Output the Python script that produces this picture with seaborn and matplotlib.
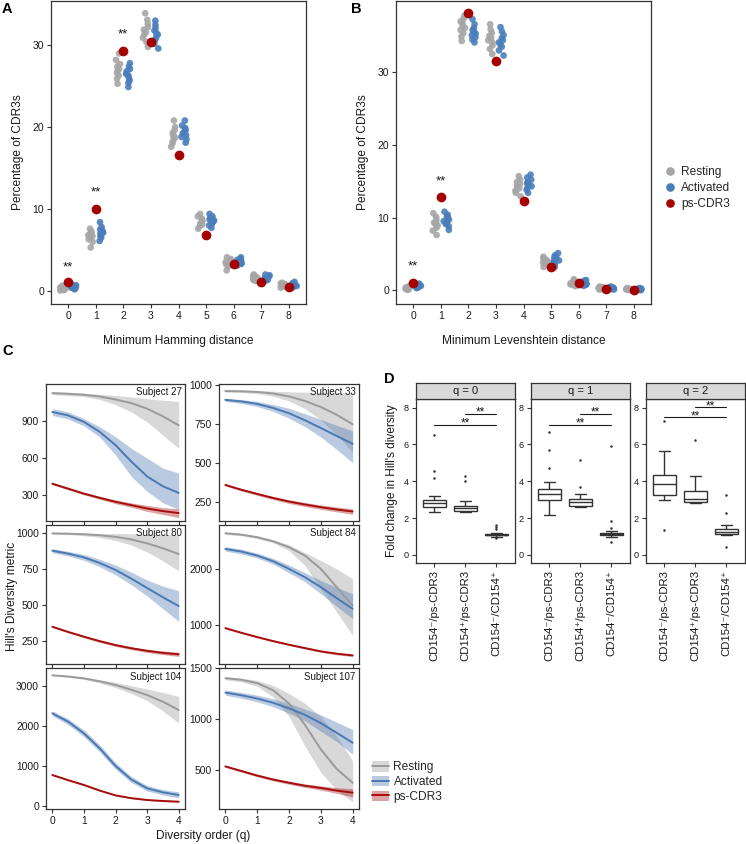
import numpy as np
import pandas as pd
import matplotlib
matplotlib.use('Agg')
import matplotlib.pyplot as plt
from matplotlib.lines import Line2D
from matplotlib.patches import Patch
import seaborn as sns

# ---------------- data: panels A and B (percentage of CDR3s) ----------------
distances = [0, 1, 2, 3, 4, 5, 6, 7, 8]

ham_rest = [
    [0.05, 0.1, 0.15, 0.2, 0.25, 0.3, 0.35, 0.4, 0.5, 0.65],
    [5.3, 6.0, 6.3, 6.5, 6.7, 6.8, 7.0, 7.1, 7.3, 7.6],
    [25.3, 25.9, 26.3, 26.6, 26.9, 27.1, 27.4, 27.7, 28.2, 29.0],
    [29.8, 30.4, 30.9, 31.3, 31.6, 31.9, 32.2, 32.6, 33.1, 33.9],
    [17.6, 18.0, 18.3, 18.6, 18.8, 19.0, 19.3, 19.6, 20.0, 20.8],
    [7.6, 7.9, 8.1, 8.2, 8.3, 8.5, 8.6, 8.8, 9.1, 9.4],
    [2.5, 3.0, 3.2, 3.3, 3.4, 3.5, 3.6, 3.7, 3.9, 4.1],
    [1.2, 1.3, 1.4, 1.5, 1.6, 1.65, 1.7, 1.8, 1.9, 2.0],
    [0.4, 0.5, 0.55, 0.6, 0.65, 0.7, 0.75, 0.8, 0.9, 1.0],
]
ham_act = [
    [0.2, 0.3, 0.35, 0.4, 0.45, 0.5, 0.55, 0.6, 0.7, 0.85],
    [6.1, 6.5, 6.7, 6.9, 7.0, 7.1, 7.3, 7.5, 7.8, 8.4],
    [24.9, 25.4, 25.7, 26.0, 26.3, 26.5, 26.8, 27.1, 27.4, 27.8],
    [29.6, 30.2, 30.7, 31.0, 31.3, 31.5, 31.8, 32.1, 32.5, 33.0],
    [18.1, 18.5, 18.8, 19.0, 19.2, 19.4, 19.6, 19.9, 20.2, 20.8],
    [7.7, 8.0, 8.2, 8.3, 8.5, 8.6, 8.7, 8.9, 9.1, 9.4],
    [3.1, 3.3, 3.4, 3.5, 3.6, 3.6, 3.7, 3.8, 3.9, 4.1],
    [1.2, 1.3, 1.4, 1.5, 1.55, 1.6, 1.7, 1.8, 1.9, 2.0],
    [0.45, 0.55, 0.6, 0.65, 0.7, 0.75, 0.8, 0.85, 0.95, 1.1],
]
ham_ps = [1.1, 10.0, 29.3, 30.4, 16.6, 6.8, 3.3, 1.1, 0.5]
ham_sig_x = [0, 1, 2]
ham_sig_y = [2.9, 12.0, 31.3]

lev_rest = [
    [0.05, 0.1, 0.15, 0.2, 0.25, 0.3, 0.35, 0.4, 0.45, 0.6],
    [7.6, 8.2, 8.6, 8.9, 9.1, 9.3, 9.5, 9.8, 10.1, 10.6],
    [34.3, 34.9, 35.4, 35.8, 36.1, 36.4, 36.7, 37.0, 37.4, 37.8],
    [32.5, 33.2, 33.7, 34.1, 34.4, 34.7, 35.0, 35.4, 35.9, 36.6],
    [12.9, 13.4, 13.7, 14.0, 14.2, 14.4, 14.6, 14.9, 15.2, 15.7],
    [3.2, 3.5, 3.7, 3.8, 3.9, 4.0, 4.1, 4.2, 4.4, 4.6],
    [0.55, 0.7, 0.8, 0.9, 0.95, 1.0, 1.1, 1.2, 1.3, 1.5],
    [0.1, 0.15, 0.2, 0.22, 0.25, 0.28, 0.3, 0.35, 0.4, 0.5],
    [0.0, 0.03, 0.05, 0.07, 0.1, 0.12, 0.15, 0.18, 0.22, 0.3],
]
lev_act = [
    [0.3, 0.35, 0.4, 0.45, 0.5, 0.55, 0.6, 0.65, 0.75, 0.9],
    [8.3, 8.8, 9.1, 9.3, 9.5, 9.7, 9.9, 10.1, 10.4, 10.8],
    [34.1, 34.5, 34.8, 35.1, 35.3, 35.5, 35.8, 36.1, 36.6, 37.3],
    [32.3, 33.0, 33.5, 33.8, 34.1, 34.4, 34.7, 35.1, 35.6, 36.2],
    [13.4, 13.8, 14.1, 14.3, 14.5, 14.7, 14.9, 15.2, 15.5, 15.9],
    [3.2, 3.6, 3.8, 4.0, 4.1, 4.2, 4.4, 4.6, 4.8, 5.1],
    [0.6, 0.75, 0.85, 0.95, 1.0, 1.05, 1.1, 1.2, 1.3, 1.4],
    [0.1, 0.15, 0.2, 0.25, 0.28, 0.3, 0.33, 0.37, 0.42, 0.5],
    [0.0, 0.03, 0.05, 0.07, 0.1, 0.12, 0.15, 0.18, 0.22, 0.3],
]
lev_ps = [1.0, 12.8, 38.2, 31.5, 12.3, 3.2, 1.0, 0.2, 0.05]
lev_sig_x = [0, 1]
lev_sig_y = [3.3, 15.0]

# ---------------- data: panel C (Hill's diversity curves) ----------------
hill_q = [0, 0.5, 1, 1.5, 2, 2.5, 3, 3.5, 4]
series_names = ['Resting', 'Activated', 'ps-CDR3']

# each *_mean / *_lo / *_hi holds [Resting, Activated, ps-CDR3]
s27_mean = [[1124, 1119, 1111, 1097, 1073, 1044, 999, 937, 865],
            [972, 945, 892, 812, 705, 572, 452, 372, 319],
            [393, 353, 313, 279, 247, 220, 193, 172, 156]]
s27_lo = [[1111, 1105, 1097, 1073, 1031, 972, 892, 785, 679],
          [945, 915, 860, 770, 625, 452, 332, 239, 185],
          [385, 344, 303, 267, 232, 202, 170, 145, 119]]
s27_hi = [[1137, 1131, 1124, 1115, 1105, 1093, 1079, 1067, 1057],
          [999, 973, 919, 853, 772, 679, 599, 519, 479],
          [401, 362, 323, 291, 262, 238, 218, 200, 191]]
s27_ticks = [300, 600, 900]
s27_ylim = (92, 1198)

s33_mean = [[961, 959, 955, 945, 926, 897, 858, 808, 747],
            [904, 894, 878, 852, 818, 773, 723, 672, 621],
            [357, 326, 299, 273, 250, 231, 214, 199, 186]]
s33_lo = [[954, 951, 944, 928, 897, 848, 775, 680, 565],
          [894, 881, 861, 830, 786, 732, 665, 585, 500],
          [350, 318, 290, 263, 238, 218, 200, 184, 168]]
s33_hi = [[968, 966, 964, 960, 956, 953, 952, 951, 950],
          [914, 906, 894, 874, 850, 815, 778, 740, 705],
          [364, 334, 308, 283, 262, 244, 228, 215, 204]]
s33_ticks = [250, 500, 750, 1000]
s33_ylim = (125, 1006)

s80_mean = [[995, 993, 989, 982, 971, 953, 926, 892, 852],
            [875, 855, 829, 790, 742, 682, 617, 553, 492],
            [349, 313, 280, 249, 222, 200, 182, 168, 158]]
s80_lo = [[990, 986, 979, 967, 946, 914, 866, 805, 735],
          [861, 839, 809, 764, 708, 640, 562, 474, 386],
          [344, 307, 273, 241, 213, 190, 171, 156, 143]]
s80_hi = [[1000, 999, 997, 995, 993, 992, 990, 988, 985],
          [889, 871, 849, 816, 776, 726, 672, 630, 598],
          [354, 319, 287, 257, 231, 210, 193, 181, 173]]
s80_ticks = [250, 500, 750, 1000]
s80_ylim = (91, 1053)

s84_mean = [[2637, 2613, 2566, 2494, 2387, 2238, 2000, 1673, 1345],
            [2357, 2310, 2238, 2137, 2000, 1851, 1673, 1476, 1286],
            [940, 857, 780, 708, 643, 583, 524, 482, 452]]
s84_lo = [[2617, 2592, 2543, 2468, 2327, 2060, 1643, 1226, 809],
          [2317, 2268, 2193, 2087, 1930, 1770, 1554, 1330, 1107],
          [928, 845, 767, 694, 628, 567, 507, 463, 430]]
s84_hi = [[2657, 2634, 2589, 2520, 2430, 2290, 2149, 2000, 1821],
          [2397, 2352, 2283, 2187, 2070, 1932, 1792, 1670, 1554],
          [952, 869, 793, 722, 658, 599, 541, 501, 474]]
s84_ticks = [1000, 2000]
s84_ylim = (298, 2785)

s104_mean = [[3259, 3230, 3184, 3110, 3018, 2900, 2768, 2600, 2394],
             [2311, 2103, 1812, 1438, 1000, 660, 441, 341, 274],
             [773, 645, 524, 385, 265, 195, 150, 125, 108]]
s104_lo = [[3245, 3212, 3160, 3072, 2955, 2805, 2630, 2370, 2070],
           [2250, 2030, 1730, 1350, 920, 588, 375, 275, 200],
           [758, 630, 510, 372, 252, 183, 138, 112, 94]]
s104_hi = [[3273, 3250, 3210, 3150, 3082, 3000, 2920, 2830, 2735],
           [2372, 2176, 1895, 1525, 1082, 735, 510, 410, 350],
           [788, 660, 538, 398, 277, 207, 162, 138, 122]]
s104_ticks = [0, 1000, 2000, 3000]
s104_ylim = (-75, 3442)

s107_mean = [[1403, 1387, 1355, 1284, 1155, 945, 703, 510, 374],
             [1261, 1235, 1203, 1161, 1106, 1042, 961, 865, 768],
             [535, 490, 445, 406, 374, 345, 323, 297, 277]]
s107_lo = [[1387, 1368, 1323, 1219, 1026, 735, 477, 300, 187],
           [1235, 1206, 1170, 1122, 1058, 985, 881, 780, 655],
           [525, 479, 433, 393, 359, 328, 302, 270, 235]]
s107_hi = [[1419, 1403, 1381, 1332, 1252, 1155, 1026, 832, 590],
           [1287, 1264, 1236, 1200, 1154, 1100, 1042, 970, 897],
           [545, 501, 457, 419, 389, 362, 344, 325, 316]]
s107_ticks = [500, 1000, 1500]
s107_ylim = (116, 1503)

# ---------------- data: panel D (fold change boxplots) ----------------
groups = ['CD154\u207b/ps-CDR3', 'CD154\u207a/ps-CDR3', 'CD154\u207b/CD154\u207a']
facet_titles = ['q = 0', 'q = 1', 'q = 2']

fc_q0 = [
    [2.36, 2.45, 2.52, 2.58, 2.63, 2.68, 2.72, 2.77, 2.82, 2.86, 2.89, 2.93, 2.96, 3.2, 4.2, 4.55, 6.5],
    [2.36, 2.37, 2.38, 2.39, 2.40, 2.44, 2.48, 2.51, 2.54, 2.57, 2.60, 2.64, 2.67, 2.78, 2.94, 4.03, 4.3],
    [0.91, 1.0, 1.03, 1.05, 1.07, 1.08, 1.09, 1.10, 1.10, 1.11, 1.12, 1.13, 1.15, 1.2, 1.4, 1.5, 1.63],
]
fc_q1 = [
    [2.18, 2.6, 2.8, 2.9, 3.0, 3.08, 3.16, 3.25, 3.32, 3.38, 3.45, 3.52, 3.6, 3.96, 4.74, 5.69, 6.69],
    [2.6, 2.62, 2.64, 2.66, 2.68, 2.72, 2.76, 2.8, 2.85, 2.89, 2.94, 3.0, 3.05, 3.18, 3.32, 3.69, 5.18],
    [0.73, 0.98, 1.02, 1.05, 1.07, 1.09, 1.11, 1.13, 1.15, 1.16, 1.17, 1.18, 1.2, 1.3, 1.45, 1.87, 5.9],
]
fc_q2 = [
    [1.36, 3.0, 3.1, 3.18, 3.23, 3.4, 3.55, 3.7, 3.87, 3.95, 4.05, 4.2, 4.36, 4.8, 5.2, 5.63, 7.3],
    [2.82, 2.84, 2.85, 2.86, 2.87, 2.92, 2.97, 3.01, 3.05, 3.12, 3.2, 3.35, 3.49, 3.7, 3.95, 4.27, 6.27],
    [0.42, 1.1, 1.12, 1.14, 1.15, 1.18, 1.21, 1.24, 1.27, 1.3, 1.33, 1.37, 1.4, 1.5, 1.63, 2.29, 3.25],
]
sig_pairs = [(1, 2), (0, 2)]
sig_heights = [[7.68, 7.08], [7.68, 7.08], [8.05, 7.50]]

# ---------------- style ----------------
sns.set_theme(style='ticks')
plt.rcParams['font.family'] = ['Liberation Sans', 'DejaVu Sans']
plt.rcParams['axes.edgecolor'] = '#333333'
plt.rcParams['axes.linewidth'] = 0.9

GRAY, BLUE, RED = '#a6a6a6', '#4a7ebb', '#a50000'
LINE_COLS = ['#9a9a9a', '#4a78b2', '#a80d0d']
INK = '#1a1a1a'

W, H = 746, 844
fig = plt.figure(figsize=(W / 100, H / 100), dpi=100)


def add_ax(l, t, r, b):
    return fig.add_axes([l / W, 1 - b / H, (r - l) / W, (b - t) / H])


def tidy(ax, size=7.5):
    ax.tick_params(direction='out', length=3, width=0.8, color='#333333',
                   labelsize=size, labelcolor=INK, pad=2)


# ---------------- panels A and B ----------------
np.random.seed(7)
dot_panels = [
    (add_ax(51, 1, 306, 304), ham_rest, ham_act, ham_ps, ham_sig_x, ham_sig_y,
     (-1.6, 35.4), [0, 10, 20, 30], 'Minimum Hamming distance'),
    (add_ax(396, 1, 651, 304), lev_rest, lev_act, lev_ps, lev_sig_x, lev_sig_y,
     (-1.9, 39.8), [0, 10, 20, 30], 'Minimum Levenshtein distance'),
]
for ax, rest, act, ps, sx, sy, ylim, yt, xlab in dot_panels:
    rows = []
    for d, rv, av in zip(distances, rest, act):
        rows += [(d, v, 'Resting') for v in rv]
        rows += [(d, v, 'Activated') for v in av]
    df = pd.DataFrame(rows, columns=['dist', 'pct', 'group'])
    sns.stripplot(data=df, x='dist', y='pct', hue='group',
                  hue_order=['Resting', 'Activated'], palette=[GRAY, BLUE],
                  dodge=True, jitter=0.2, size=4.8, alpha=0.9, linewidth=0,
                  legend=False, ax=ax)
    sns.stripplot(x=distances, y=ps, color=RED, jitter=False, size=7,
                  linewidth=0, ax=ax)
    for x, y in zip(sx, sy):
        ax.text(x, y, '**', ha='center', va='center', fontsize=9.5, color=INK)
    ax.set_xlim(-0.62, 8.62)
    ax.set_ylim(*ylim)
    ax.set_yticks(yt)
    ax.set_xlabel(xlab, fontsize=8.6, color=INK, labelpad=10)
    ax.set_ylabel('Percentage of CDR3s', fontsize=8.6, color=INK, labelpad=6)
    tidy(ax)

dot_handles = [Line2D([], [], marker='o', ls='', color=c, markersize=5.2)
               for c in [GRAY, BLUE, RED]]
fig.legend(dot_handles, series_names, loc='center left',
           bbox_to_anchor=(666 / W, 1 - 188 / H), frameon=False,
           fontsize=8.6, handlelength=0.7, handletextpad=0.55, labelspacing=0.35,
           borderaxespad=0, borderpad=0)

# ---------------- panel C ----------------
c_cols = [(46, 185), (219, 359)]
c_rows = [(384, 521), (525, 664), (668, 809)]
hill_panels = [
    ('Subject 27', s27_mean, s27_lo, s27_hi, s27_ticks, s27_ylim),
    ('Subject 33', s33_mean, s33_lo, s33_hi, s33_ticks, s33_ylim),
    ('Subject 80', s80_mean, s80_lo, s80_hi, s80_ticks, s80_ylim),
    ('Subject 84', s84_mean, s84_lo, s84_hi, s84_ticks, s84_ylim),
    ('Subject 104', s104_mean, s104_lo, s104_hi, s104_ticks, s104_ylim),
    ('Subject 107', s107_mean, s107_lo, s107_hi, s107_ticks, s107_ylim),
]
for k, (name, mean, lo, hi, ticks, ylim) in enumerate(hill_panels):
    r, c = divmod(k, 2)
    ax = add_ax(c_cols[c][0], c_rows[r][0], c_cols[c][1], c_rows[r][1])
    for l, h, col in zip(lo, hi, LINE_COLS):
        ax.fill_between(hill_q, l, h, color=col, alpha=0.38, linewidth=0)
    df = pd.DataFrame({'q': hill_q * 3,
                       'value': sum(mean, []),
                       'series': np.repeat(series_names, len(hill_q))})
    sns.lineplot(data=df, x='q', y='value', hue='series', hue_order=series_names,
                 palette=LINE_COLS, linewidth=1.4, legend=False, ax=ax)
    ax.set_xlim(-0.2, 4.2)
    ax.set_ylim(*ylim)
    ax.set_xticks([0, 1, 2, 3, 4])
    ax.set_yticks(ticks)
    if r < 2:
        ax.set_xticklabels([])
    ax.set_xlabel('')
    ax.set_ylabel('')
    ax.text(0.975, 0.975, name, transform=ax.transAxes, ha='right', va='top',
            fontsize=7, color=INK)
    tidy(ax, 7.4)

fig.text(12 / W, 1 - 596 / H, "Hill's Diversity metric", rotation=90,
         ha='center', va='center', fontsize=8.6, color=INK)
fig.text(203 / W, 1 - 836 / H, 'Diversity order (q)', ha='center',
         va='center', fontsize=8.6, color=INK)

ribbon_handles = [(Patch(facecolor=col, alpha=0.38, linewidth=0),
                   Line2D([], [], color=col, linewidth=1.4)) for col in LINE_COLS]
fig.legend(ribbon_handles, series_names, loc='center left',
           bbox_to_anchor=(372 / W, 1 - 782 / H), frameon=False,
           fontsize=8.6, handlelength=1.4, handleheight=1.0, handletextpad=0.4,
           labelspacing=0.2, borderaxespad=0, borderpad=0)

# ---------------- panel D ----------------
d_cols = [(415.7, 515), (530.7, 630), (645.7, 745)]
for j, (vals, title, heights) in enumerate(zip([fc_q0, fc_q1, fc_q2],
                                               facet_titles, sig_heights)):
    l, rr = d_cols[j]
    ax = add_ax(l, 399, rr, 562.7)
    strip = add_ax(l, 383, rr, 399)
    strip.set_facecolor('#d9d9d9')
    strip.set_xticks([])
    strip.set_yticks([])
    strip.text(0.5, 0.5, title, ha='center', va='center', fontsize=8,
               color=INK, transform=strip.transAxes)

    df = pd.DataFrame({'group': np.repeat(groups, [len(v) for v in vals]),
                       'value': np.concatenate(vals)})
    sns.boxplot(data=df, x='group', y='value', order=groups, color='white',
                linecolor='#333333', linewidth=1.0, width=0.75,
                flierprops=dict(marker='o', markersize=1.8,
                                markerfacecolor='#333333',
                                markeredgecolor='none'), ax=ax)
    for (a, b), y in zip(sig_pairs, heights):
        ax.plot([a, b], [y, y], color=INK, linewidth=0.8)
        ax.text((a + b) / 2, y - 0.12, '**', ha='center', va='baseline',
                fontsize=8.5, color=INK)
    ax.set_xlim(-0.6, 2.6)
    ax.set_ylim(-0.42, 8.47)
    ax.set_yticks([0, 2, 4, 6, 8])
    ax.set_xlabel('')
    ax.set_ylabel('Fold change in Hill\'s diversity' if j == 0 else '',
                  fontsize=8.6, color=INK, labelpad=4)
    tidy(ax, 6.6)
    ax.tick_params(axis='x', labelrotation=90, labelsize=8.2)

# ---------------- panel letters ----------------
for lab, x, y in [('A', 2, 2), ('B', 351, 2), ('C', 2, 344), ('D', 384, 372)]:
    fig.text(x / W, 1 - y / H, lab, fontsize=10.5, fontweight='bold',
             ha='left', va='top', color='black')

fig.savefig('out.png', dpi=100)
